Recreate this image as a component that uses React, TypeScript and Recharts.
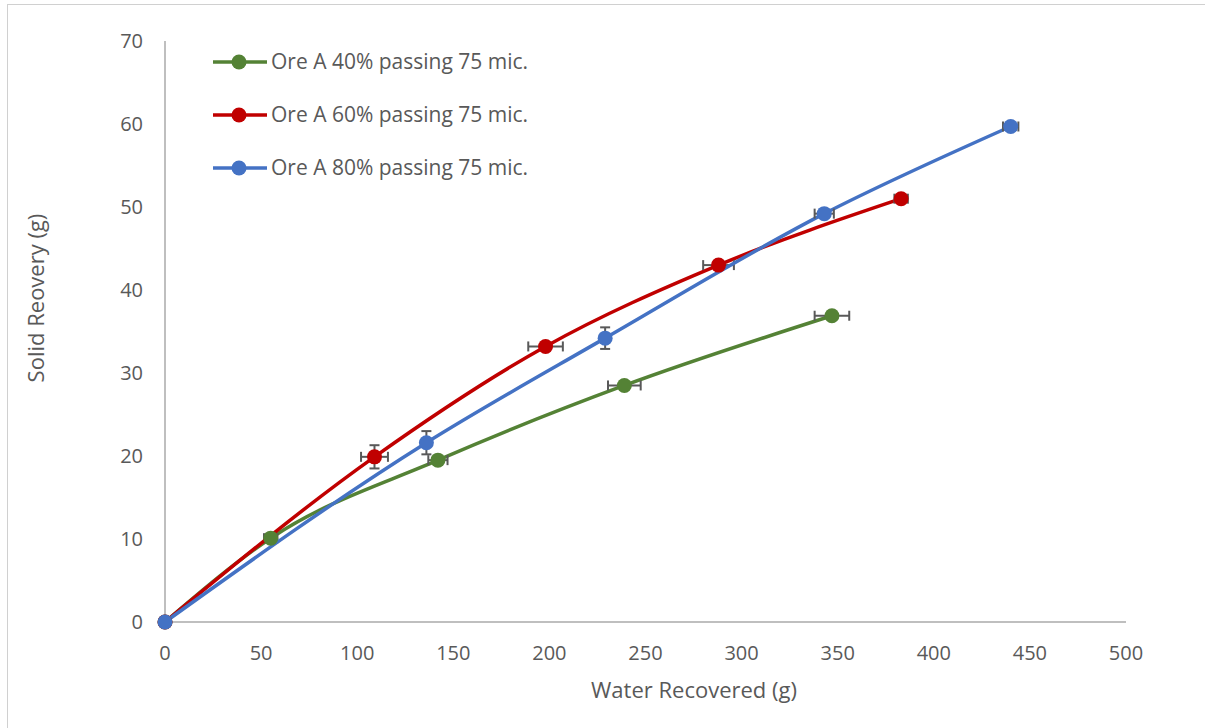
import React from "react";
import {
  ComposedChart,
  Line,
  Scatter,
  ErrorBar,
  XAxis,
  YAxis,
  Label,
} from "recharts";

// series names
const names = [
  "Ore A 40% passing 75 mic.",
  "Ore A 60% passing 75 mic.",
  "Ore A 80% passing 75 mic.",
];
const colors = ["#548235", "#C00000", "#4472C4"];

// water recovered (g)
const water40 = [0, 55, 142, 239, 347];
const water60 = [0, 109, 198, 288, 383];
const water80 = [0, 136, 229, 343, 440];

// solid recovery (g)
const solid40 = [0, 10.1, 19.5, 28.5, 36.9];
const solid60 = [0, 19.9, 33.2, 43.0, 51.0];
const solid80 = [0, 21.6, 34.2, 49.2, 59.7];

// error (x = water, y = solid)
const errX40 = [0, 3.5, 5, 8.5, 9];
const errX60 = [0, 7, 9, 8, 3.5];
const errX80 = [0, 0, 0, 5, 4];
const errY40 = [0, 0, 0, 0, 0];
const errY60 = [0, 1.4, 0, 0, 0];
const errY80 = [0, 1.4, 1.3, 0, 0];

const xTicks = [0, 50, 100, 150, 200, 250, 300, 350, 400, 450, 500];
const yTicks = [0, 10, 20, 30, 40, 50, 60, 70];

const build = (xs: number[], ys: number[], ex: number[], ey: number[]) =>
  xs.map((x, i) => ({ x, y: ys[i], ex: ex[i], ey: ey[i] }));

const series = [
  build(water40, solid40, errX40, errY40),
  build(water60, solid60, errX60, errY60),
  build(water80, solid80, errX80, errY80),
];

const FONT = "'Open Sans', sans-serif";
const TXT = "#595959";

export default function App() {
  return (
    <div
      style={{
        position: "absolute",
        left: 7,
        top: 4,
        width: 1198,
        height: 724,
        borderTop: "1px solid #d0d0d0",
        borderLeft: "1px solid #d0d0d0",
        boxSizing: "border-box",
        fontFamily: FONT,
        background: "#fff",
      }}
    >
      <ComposedChart
        width={1197}
        height={723}
        margin={{ top: 36, right: 79, bottom: 46, left: 97 }}
      >
        <XAxis
          type="number"
          dataKey="x"
          domain={[0, 500]}
          ticks={xTicks}
          interval={0}
          height={60}
          axisLine={{ stroke: "#bfbfbf", strokeWidth: 2 }}
          tickLine={false}
          tickSize={0}
          tickMargin={24}
          tick={{ fill: TXT, fontSize: 20, fontFamily: FONT }}
        >
          <Label
            content={() => (
              <text
                x={686}
                y={684}
                textAnchor="middle"
                dominantBaseline="central"
                fill={TXT}
                fontSize={22}
                fontFamily={FONT}
              >
                Water Recovered (g)
              </text>
            )}
          />
        </XAxis>
        <YAxis
          type="number"
          domain={[0, 70]}
          ticks={yTicks}
          interval={0}
          width={60}
          axisLine={{ stroke: "#bfbfbf", strokeWidth: 2 }}
          tickLine={false}
          tickSize={0}
          tickMargin={22}
          tick={{ fill: TXT, fontSize: 20, fontFamily: FONT }}
        >
          <Label
            content={() => (
              <text
                x={27}
                y={293}
                transform="rotate(-90 27 293)"
                textAnchor="middle"
                dominantBaseline="central"
                fill={TXT}
                fontSize={22}
                fontFamily={FONT}
              >
                Solid Reovery (g)
              </text>
            )}
          />
        </YAxis>
        {series.map((d, i) => [
          <Line
            key={"l" + i}
            data={d}
            dataKey="y"
            type="monotone"
            stroke={colors[i]}
            strokeWidth={3.5}
            dot={false}
            activeDot={false}
            isAnimationActive={false}
          />,
          <Scatter
            key={"s" + i}
            data={d}
            dataKey="y"
            fill={colors[i]}
            isAnimationActive={false}
            shape={(p: any) => (
              <circle cx={p.cx} cy={p.cy} r={7.5} fill={colors[i]} />
            )}
          >
            <ErrorBar
              dataKey="ex"
              direction="x"
              width={5}
              stroke="#595959"
              strokeWidth={2}
              isAnimationActive={false}
            />
            <ErrorBar
              dataKey="ey"
              direction="y"
              width={5}
              stroke="#595959"
              strokeWidth={2}
              isAnimationActive={false}
            />
          </Scatter>,
        ])}
      </ComposedChart>
      <div
        style={{
          position: "absolute",
          left: 205,
          top: 30,
          color: TXT,
          fontSize: 21,
          lineHeight: "53px",
        }}
      >
        {names.map((n, i) => (
          <div key={n} style={{ display: "flex", alignItems: "center", height: 53, whiteSpace: "nowrap" }}>
            <svg width={54} height={16} style={{ marginRight: 4 }}>
              <line x1={0} y1={8} x2={54} y2={8} stroke={colors[i]} strokeWidth={3.5} />
              <circle cx={26} cy={8} r={7.5} fill={colors[i]} />
            </svg>
            <span>{n}</span>
          </div>
        ))}
      </div>
    </div>
  );
}
